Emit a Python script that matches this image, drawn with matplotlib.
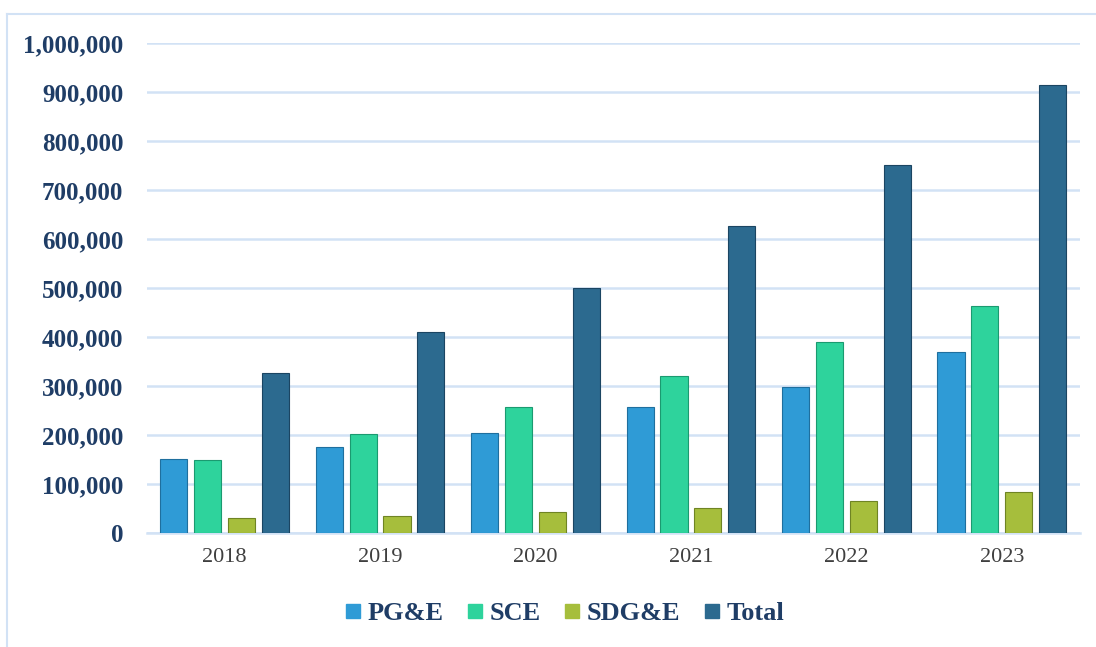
import matplotlib.pyplot as plt
import numpy as np
from matplotlib.ticker import FuncFormatter
from matplotlib.lines import Line2D

years = ['2018', '2019', '2020', '2021', '2022', '2023']
pge = [151000, 176000, 204000, 257000, 298000, 369000]
sce = [150000, 202000, 257000, 320000, 390000, 463000]
sdge = [31000, 35000, 43000, 51000, 65000, 84000]
total = [327000, 410000, 500000, 627000, 751000, 914000]

series = [('PG&E', pge, '#2F9BD6', '#1F6F9E'),
          ('SCE', sce, '#2ED39C', '#1B9A70'),
          ('SDG&E', sdge, '#A6BE3C', '#6F8424'),
          ('Total', total, '#2C6A8F', '#1B4562')]

navy = '#1F3D66'
grid_c = '#D2E2F5'
plt.rcParams['font.family'] = ['Liberation Serif', 'DejaVu Serif']

fig = plt.figure(figsize=(10.96, 6.47), dpi=100)
ax = fig.add_axes([0.134, 0.176, 0.851, 0.7575])

x = np.arange(len(years))
w = 0.174
step = 0.218
for i, (name, vals, col, edge) in enumerate(series):
    ax.bar(x + (i - 1.5) * step, vals, w, color=col, edgecolor=edge,
           linewidth=0.8, label=name, zorder=3)

ax.set_xlim(-0.5, len(years) - 0.5)
ax.set_ylim(0, 1000000)
ax.set_yticks(range(0, 1000001, 100000))
ax.yaxis.set_major_formatter(FuncFormatter(lambda v, p: f'{int(v):,}'))
ax.grid(axis='y', color=grid_c, linewidth=1.8, zorder=0)
for s in ['top', 'right', 'left']:
    ax.spines[s].set_visible(False)
ax.spines['bottom'].set_color(grid_c)
ax.spines['bottom'].set_linewidth(1.8)
ax.tick_params(axis='y', length=0, pad=17, labelsize=18, labelcolor=navy)
ax.tick_params(axis='x', length=0, pad=11, labelsize=16, labelcolor='#3F3F3F')
for t in ax.get_yticklabels():
    t.set_fontweight('bold')
ax.set_xticks(x)
ax.set_xticklabels(years)

handles = [Line2D([], [], marker='s', linestyle='', markersize=10,
                  markerfacecolor=c, markeredgecolor=c) for _, _, c, e in series]
leg = fig.legend(handles, [s[0] for s in series], loc='center',
                 bbox_to_anchor=(0.515, 0.052), ncol=4, frameon=False,
                 handlelength=0.6, handletextpad=0.25, columnspacing=0.9,
                 prop={'size': 19, 'weight': 'bold'})
for t in leg.get_texts():
    t.set_color(navy)

# outer frame
fig.add_artist(Line2D([7 / 1096, 7 / 1096], [0, 1 - 14 / 647], color=grid_c,
                      linewidth=1.5, transform=fig.transFigure))
fig.add_artist(Line2D([7 / 1096, 1], [1 - 14 / 647, 1 - 14 / 647], color=grid_c,
                      linewidth=1.5, transform=fig.transFigure))

fig.savefig('out.png', dpi=100)
